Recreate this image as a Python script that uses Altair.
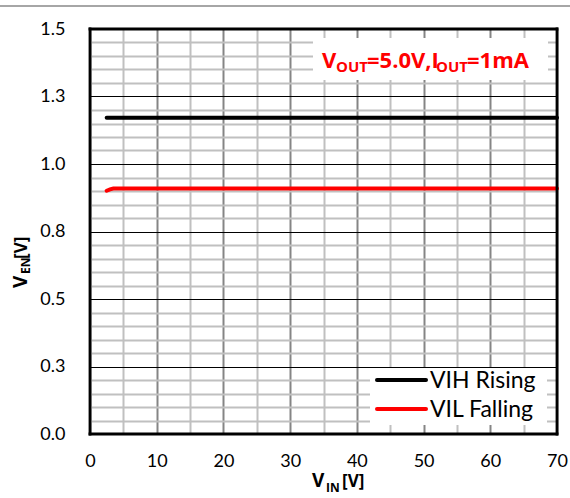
import altair as alt
import pandas as pd

# Enable threshold vs. input voltage
vin = [2.5, 3.0, 3.5, 5, 10, 15, 20, 25, 30, 35, 40, 45, 50, 55, 60, 65, 70]
vih_rising = [1.171, 1.171, 1.171, 1.171, 1.171, 1.171, 1.171, 1.171, 1.171,
              1.171, 1.171, 1.171, 1.171, 1.171, 1.171, 1.171, 1.171]
vil_falling = [0.901, 0.906, 0.909, 0.909, 0.909, 0.909, 0.909, 0.909, 0.909,
               0.909, 0.909, 0.909, 0.909, 0.909, 0.909, 0.909, 0.909]
series = ["VIH Rising", "VIL Falling"]
series_colors = ["#000000", "#ff0000"]

x_ticks = list(range(0, 71, 5))
y_ticks = [round(i * 0.05, 2) for i in range(31)]

FONT = "Lato"
BOLD_FONT = "Open Sans"
W, H = 467, 405

df = pd.concat([
    pd.DataFrame({"vin": vin, "ven": vih_rising, "series": series[0]}),
    pd.DataFrame({"vin": vin, "ven": vil_falling, "series": series[1]}),
])

major_y = "abs(datum.value * 4 - round(datum.value * 4)) < 1e-6"
major_x = "datum.value % 10 === 0"

x_axis = alt.Axis(
    values=x_ticks, title=None, ticks=False, domain=False,
    labelExpr=f"{major_x} ? datum.label : ''",
    labelFlush=False, labelOverlap=False,
    labelFont=FONT, labelFontSize=18, labelColor="black", labelPadding=18,
    gridColor={"condition": {"test": major_x, "value": "#858585"}, "value": "#c0c0c0"},
    gridWidth=2, gridOpacity=1,
)
y_axis = alt.Axis(
    values=y_ticks, title=None, ticks=False, domain=False,
    labelExpr=f"{major_y} ? format(datum.value, '.1f') : ''",
    labelFlush=False, labelOverlap=False,
    labelFont=FONT, labelFontSize=18, labelColor="black", labelPadding=25,
    gridColor={"condition": {"test": major_y, "value": "#000000"}, "value": "#c0c0c0"},
    gridWidth={"condition": {"test": major_y, "value": 1.2}, "value": 2},
    gridOpacity=1,
)

lines = alt.Chart(df).mark_line(strokeWidth=4, strokeCap="round").encode(
    x=alt.X("vin:Q", scale=alt.Scale(domain=[0, 70], nice=False), axis=x_axis),
    y=alt.Y("ven:Q", scale=alt.Scale(domain=[0, 1.5], nice=False), axis=y_axis),
    color=alt.Color("series:N", scale=alt.Scale(domain=series, range=series_colors),
                    legend=None),
)

# Heavy black border around the plotting area, one rule per side
def edge(x, x2, y, y2):
    return alt.Chart().mark_rule(color="black", strokeWidth=2.8, strokeCap="square").encode(
        x=alt.value(x), x2=alt.value(x2), y=alt.value(y), y2=alt.value(y2)
    )

frame = [edge(0, W, 0, 0), edge(0, W, H, H), edge(0, 0, 0, H), edge(W, W, 0, H)]


def text_piece(s, x, y, size, color="black", angle=0, font=BOLD_FONT, weight="bold"):
    return alt.Chart().mark_text(
        text=s, align="left", baseline="alphabetic", font=font,
        fontWeight=weight, fontSize=size, angle=angle, color=color,
    ).encode(x=alt.value(x), y=alt.value(y))


# Operating-condition note in the top right corner
note_box = alt.Chart().mark_rect(fill="white").encode(
    x=alt.value(223), x2=alt.value(458), y=alt.value(9), y2=alt.value(51)
)
RED = "#ff0000"
note = [
    text_piece("V", 232, 39, 22, RED),
    text_piece("OUT", 246, 43, 15, RED),
    text_piece("=5.0V,I", 277, 39, 22, RED),
    text_piece("OUT", 346, 43, 15, RED),
    text_piece("=1mA", 377, 39, 22, RED),
]

# Axis titles with subscripts
x_title = [
    text_piece("V", 222, 458, 19),
    text_piece("IN", 236, 463, 12),
    text_piece("[V]", 252, 458, 17),
]
y_title = [
    text_piece("V", -63, 259, 19, angle=270),
    text_piece("EN", -60, 245, 12, angle=270),
    text_piece("[V]", -63, 230, 17, angle=270),
]

# Legend box in the lower right corner
legend_box = alt.Chart().mark_rect(fill="white").encode(
    x=alt.value(280), x2=alt.value(457), y=alt.value(339), y2=alt.value(396)
)
legend_items = []
for i, (name, col) in enumerate(zip(series, series_colors)):
    row = 351 + 29 * i
    legend_items.append(
        alt.Chart().mark_rule(color=col, strokeWidth=4, strokeCap="round").encode(
            x=alt.value(287), x2=alt.value(336), y=alt.value(row)
        )
    )
    legend_items.append(text_piece(name, 340, row + 8, 23, font=FONT, weight="normal"))

top_rule = alt.Chart().mark_rule(color="#a6a6a6", strokeWidth=2).encode(
    x=alt.value(-90), x2=alt.value(480), y=alt.value(-23)
)

chart = alt.layer(
    lines, note_box, *note, legend_box, *legend_items, *frame,
    *x_title, *y_title, top_rule
).properties(
    width=W, height=H,
    autosize=alt.AutoSizeParams(type="none"),
    padding={"left": 90, "top": 29, "right": 13, "bottom": 64},
).configure(
    background="white"
).configure_view(
    strokeWidth=0
)

chart.save("out.html", embed_options={"renderer": "svg", "actions": False})
